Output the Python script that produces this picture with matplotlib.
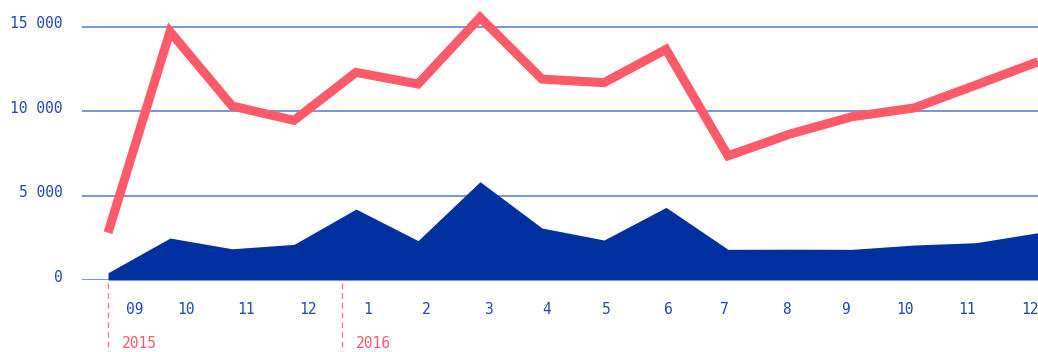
import numpy as np
import matplotlib
matplotlib.use("Agg")
import matplotlib.pyplot as plt
import matplotlib.transforms as mtransforms

# data
months = ["09", "10", "11", "12", "1", "2", "3", "4", "5", "6", "7", "8", "9", "10", "11", "12"]
line_vals = [2800, 14700, 10300, 9450, 12290, 11600, 15540, 11890, 11680, 13650,
             7350, 8640, 9665, 10180, 11540, 12920]
area_vals = [430, 2485, 1850, 2110, 4200, 2330, 5820, 3077, 2367, 4300,
             1815, 1825, 1815, 2070, 2210, 2800]
yticks = [0, 5000, 10000, 15000]
years = ["2015", "2016"]

# layout: where the month labels and year markers sit (x in data units)
label_pos = [0.435, 1.26, 2.23, 3.23, 4.18, 5.13, 6.13, 7.08, 8.03, 9.03,
             9.94, 10.94, 11.89, 12.86, 13.86, 14.87]
year_pos = [0, 3.77]

red = "#ff5a6a"
navy = "#0030a0"
txt = "#2147b0"
grid = "#6f8dd2"

fig = plt.figure(figsize=(10.38, 3.52), dpi=100)
ax = fig.add_axes([0.079, 0.2045, 0.921, 0.768])

x = np.arange(len(months))
ax.fill_between(x, 0, area_vals, color=navy, lw=0, zorder=2)
ax.plot(x, line_vals, color=red, lw=6.5, solid_joinstyle="miter",
        solid_capstyle="butt", zorder=3, clip_on=False)

ax.set_xlim(-0.42, 15)
ax.set_ylim(0, 16000)

for v in yticks:
    ax.axhline(v, color=grid, lw=1.3, zorder=1)

ax.set_yticks(yticks)
ax.set_yticklabels([f"{v:,}".replace(",", " ") for v in yticks])
ax.set_xticks(label_pos)
ax.set_xticklabels(months)
ax.tick_params(axis="y", length=0, pad=14, labelsize=10.5, labelcolor=txt)
ax.tick_params(axis="x", length=0, pad=16, labelsize=10.5, labelcolor=txt)
shift = mtransforms.ScaledTranslation(0, 3 / 72, fig.dpi_scale_trans)
for lab in ax.get_yticklabels():
    lab.set_family("DejaVu Sans Mono")
    lab.set_transform(lab.get_transform() + shift)
for lab in ax.get_xticklabels():
    lab.set_family("DejaVu Sans Mono")

for s in ax.spines.values():
    s.set_visible(False)

trans = mtransforms.blended_transform_factory(ax.transData, ax.transAxes)
for yr, xp in zip(years, year_pos):
    ax.plot([xp, xp], [-0.01, -0.3], color=red, lw=1, ls=(0, (4, 3)),
            transform=trans, clip_on=False, alpha=0.8)
    ax.text(xp + 0.22, -0.233, yr, color=red, fontsize=10.5, family="DejaVu Sans Mono",
            ha="left", va="center", transform=trans)

fig.savefig("out.png", dpi=100)
